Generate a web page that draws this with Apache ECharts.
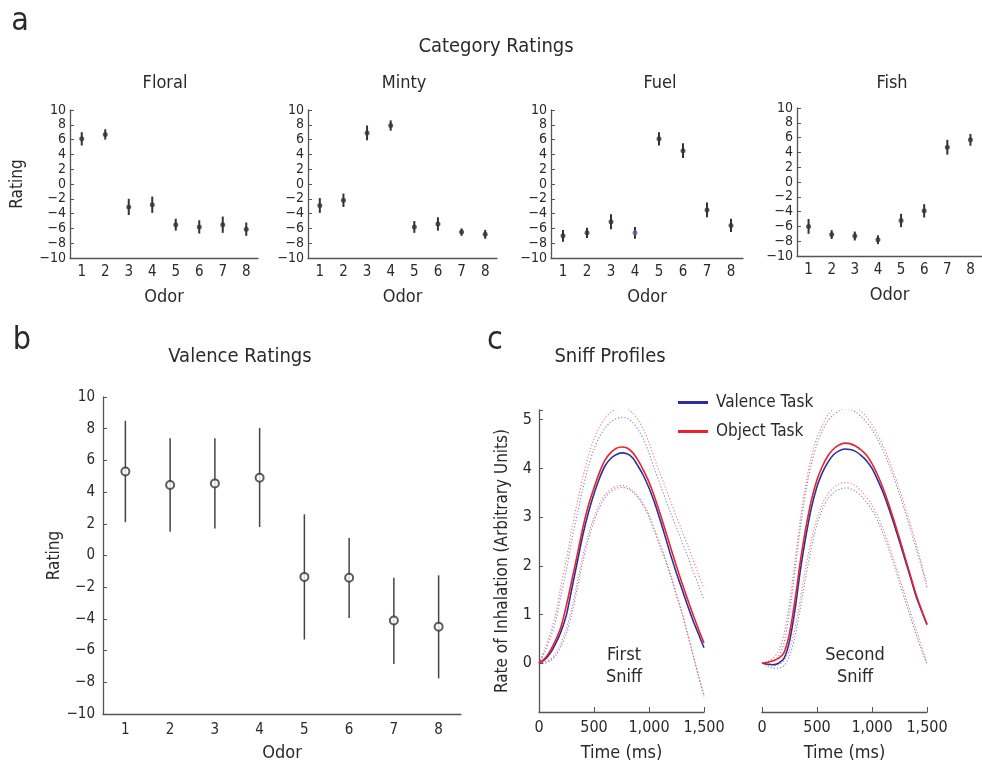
<!DOCTYPE html>
<html>
<head>
<meta charset="utf-8">
<script src="https://cdn.jsdelivr.net/npm/echarts@6/dist/echarts.min.js"></script>
<style>
html, body { margin: 0; padding: 0; background: #fff; }
#chart { width: 982px; height: 766px; }
</style>
</head>
<body>
<div id="chart"></div>
<script>
// odor categories (panels a, b)
var odors = ['1', '2', '3', '4', '5', '6', '7', '8'];

// panel a: category ratings, mean and half error bar
var floralMean = [6.1, 6.7, -3.1, -2.8, -5.5, -5.8, -5.5, -6.1];
var floralErr  = [0.9, 0.7, 1.1, 1.1, 0.8, 0.9, 1.1, 0.9];
var mintyMean  = [-2.9, -2.2, 6.9, 7.9, -5.8, -5.4, -6.5, -6.8];
var mintyErr   = [1.0, 0.9, 1.0, 0.7, 0.8, 0.9, 0.5, 0.6];
var fuelMean   = [-7.0, -6.6, -5.1, -6.6, 6.1, 4.5, -3.5, -5.6];
var fuelErr    = [0.8, 0.7, 1.0, 0.8, 0.9, 1.0, 1.0, 0.9];
var fishMean   = [-6.0, -7.1, -7.3, -7.8, -5.2, -3.9, 4.7, 5.7];
var fishErr    = [1.0, 0.6, 0.6, 0.6, 0.9, 0.9, 1.0, 0.8];

// panel b: valence ratings
var valenceMean = [5.3, 4.45, 4.55, 4.9, -1.35, -1.4, -4.1, -4.5];
var valenceLow  = [2.1, 1.5, 1.7, 1.8, -5.3, -3.95, -6.85, -7.75];
var valenceHigh = [8.5, 7.4, 7.4, 8.05, 2.6, 1.1, -1.4, -1.25];

// panel c: sniff profiles, read every 50 ms
var timeMs = [0, 50, 100, 150, 200, 250, 300, 350, 400, 450, 500, 550, 600, 650, 700, 750,
              800, 850, 900, 950, 1000, 1050, 1100, 1150, 1200, 1250, 1300, 1350, 1400, 1450, 1500];
var firstValence   = [0, 0.07, 0.2, 0.4, 0.65, 1.0, 1.55, 2.1, 2.65, 3.1, 3.48, 3.8, 4.05, 4.2, 4.28, 4.32, 4.3, 4.22, 4.05, 3.85, 3.6, 3.3, 2.95, 2.58, 2.2, 1.85, 1.52, 1.19, 0.88, 0.6, 0.32];
var firstObject    = [0, 0.09, 0.25, 0.47, 0.75, 1.2, 1.72, 2.25, 2.8, 3.25, 3.6, 3.92, 4.17, 4.32, 4.41, 4.44, 4.42, 4.33, 4.17, 3.96, 3.72, 3.42, 3.08, 2.72, 2.35, 1.99, 1.65, 1.32, 1.0, 0.7, 0.42];
var firstValenceUp = [0, 0.22, 0.5, 0.85, 1.4, 1.92, 2.55, 3.08, 3.6, 4.05, 4.4, 4.65, 4.83, 4.95, 5.02, 5.05, 5.03, 4.95, 4.8, 4.6, 4.32, 3.98, 3.68, 3.37, 3.07, 2.78, 2.49, 2.2, 1.9, 1.6, 1.3];
var firstValenceLo = [0, 0.0, 0.05, 0.15, 0.35, 0.62, 1.03, 1.55, 2.1, 2.55, 2.92, 3.2, 3.4, 3.52, 3.59, 3.61, 3.59, 3.52, 3.4, 3.23, 3.0, 2.7, 2.4, 2.1, 1.76, 1.39, 1.02, 0.6, 0.16, -0.27, -0.68];
var firstObjectUp  = [0, 0.28, 0.6, 1.0, 1.6, 2.15, 2.78, 3.32, 3.83, 4.27, 4.6, 4.85, 5.03, 5.15, 5.22, 5.24, 5.22, 5.14, 5.0, 4.8, 4.53, 4.2, 3.9, 3.6, 3.3, 3.01, 2.72, 2.43, 2.13, 1.83, 1.54];
var firstObjectLo  = [0, 0.02, 0.08, 0.2, 0.42, 0.72, 1.15, 1.68, 2.22, 2.65, 3.0, 3.27, 3.46, 3.57, 3.63, 3.65, 3.62, 3.55, 3.43, 3.27, 3.05, 2.76, 2.46, 2.15, 1.8, 1.43, 1.05, 0.63, 0.19, -0.24, -0.65];
var secondValence   = [0, -0.02, -0.03, 0.0, 0.1, 0.45, 1.1, 1.93, 2.62, 3.2, 3.63, 3.92, 4.13, 4.28, 4.36, 4.4, 4.39, 4.35, 4.27, 4.16, 4.0, 3.77, 3.51, 3.2, 2.86, 2.5, 2.13, 1.76, 1.38, 1.08, 0.79];
var secondObject    = [0, 0.02, 0.05, 0.1, 0.22, 0.62, 1.3, 2.12, 2.8, 3.36, 3.77, 4.05, 4.26, 4.4, 4.48, 4.52, 4.51, 4.46, 4.38, 4.27, 4.1, 3.87, 3.6, 3.28, 2.93, 2.56, 2.18, 1.8, 1.42, 1.1, 0.8];
var secondValenceUp = [0, 0.0, 0.05, 0.15, 0.42, 1.05, 1.9, 2.8, 3.55, 4.1, 4.5, 4.78, 4.98, 5.1, 5.18, 5.22, 5.21, 5.16, 5.07, 4.95, 4.8, 4.6, 4.37, 4.1, 3.8, 3.47, 3.12, 2.75, 2.37, 1.98, 1.55];
var secondValenceLo = [0, -0.06, -0.1, -0.1, -0.05, 0.15, 0.55, 1.15, 1.8, 2.38, 2.85, 3.17, 3.38, 3.5, 3.57, 3.6, 3.59, 3.53, 3.44, 3.31, 3.15, 2.93, 2.67, 2.36, 2.02, 1.66, 1.3, 0.95, 0.6, 0.28, -0.02];
var secondObjectUp  = [0, 0.03, 0.1, 0.25, 0.6, 1.25, 2.1, 2.98, 3.7, 4.25, 4.63, 4.9, 5.1, 5.22, 5.3, 5.33, 5.32, 5.27, 5.18, 5.06, 4.9, 4.7, 4.47, 4.2, 3.9, 3.57, 3.22, 2.85, 2.46, 2.05, 1.62];
var secondObjectLo  = [0, -0.03, -0.05, -0.03, 0.05, 0.28, 0.72, 1.35, 2.0, 2.55, 2.98, 3.28, 3.48, 3.6, 3.68, 3.71, 3.7, 3.64, 3.54, 3.41, 3.25, 3.03, 2.77, 2.46, 2.12, 1.76, 1.4, 1.05, 0.7, 0.35, 0.0];

var FONT = "'Liberation Sans Narrow', 'DejaVu Sans Condensed', 'Liberation Sans', sans-serif";
var TXT = '#2a2a2a';
var AX = '#555';
var BLUE = '#2c2f9e';
var RED = '#e8232b';

function minus(v) { return String(v).replace('-', '\u2212'); }
function thousands(v) {
  if (v < 1000) return String(v);
  var r = String(v % 1000);
  while (r.length < 3) r = '0' + r;
  return Math.floor(v / 1000) + ',' + r;
}

var grids = [
  { left: 70, top: 110, width: 188, height: 148 },
  { left: 308, top: 110, width: 189, height: 148 },
  { left: 551, top: 110, width: 192, height: 148 },
  { left: 797, top: 108, width: 188, height: 148 },
  { left: 103, top: 397, width: 358, height: 317 },
  { left: 539, top: 410, width: 165, height: 302 },
  { left: 762, top: 410, width: 165, height: 302 }
];

var xAxes = [], yAxes = [], series = [];

function errorBars(idx, lows, highs, width, color) {
  return {
    type: 'custom',
    xAxisIndex: idx, yAxisIndex: idx,
    silent: true, z: 2,
    data: lows.map(function (l, k) { return [k, l, highs[k]]; }),
    encode: { x: 0, y: [1, 2] },
    renderItem: function (params, api) {
      var p1 = api.coord([api.value(0), api.value(1)]);
      var p2 = api.coord([api.value(0), api.value(2)]);
      return {
        type: 'line',
        shape: { x1: p1[0], y1: p1[1], x2: p2[0], y2: p2[1] },
        style: { stroke: color, lineWidth: width }
      };
    }
  };
}

function odorX(idx, size, margin, gap, nameSize) {
  return {
    gridIndex: idx, type: 'category', data: odors, boundaryGap: true,
    axisLine: { onZero: false, lineStyle: { color: AX, width: 1.3 } },
    axisTick: { inside: true, alignWithLabel: true, length: 4, lineStyle: { color: AX } },
    axisLabel: { color: TXT, fontSize: size, margin: margin, fontFamily: FONT },
    splitLine: { show: false },
    name: 'Odor', nameLocation: 'middle', nameGap: gap,
    nameTextStyle: { color: TXT, fontSize: nameSize, fontFamily: FONT }
  };
}

function ratingY(idx, size, margin, named, gap) {
  return {
    gridIndex: idx, type: 'value', min: -10, max: 10, interval: 2,
    axisLine: { show: true, onZero: false, lineStyle: { color: AX, width: 1.3 } },
    axisTick: { show: true, inside: true, length: 4, lineStyle: { color: AX } },
    axisLabel: { color: TXT, fontSize: size, margin: margin, fontFamily: FONT, formatter: minus },
    splitLine: { show: false },
    name: named ? 'Rating' : '', nameLocation: 'middle', nameGap: gap, nameRotate: 90,
    nameTextStyle: { color: TXT, fontSize: 17, fontFamily: FONT }
  };
}

// panel a
var catMeans = [floralMean, mintyMean, fuelMean, fishMean];
var catErrs = [floralErr, mintyErr, fuelErr, fishErr];
for (var i = 0; i < 4; i++) {
  xAxes.push(odorX(i, 15, 7, 30, 18));
  yAxes.push(ratingY(i, 14, 4, i === 0, 44));
  var m = catMeans[i], e = catErrs[i];
  series.push(errorBars(i,
    m.map(function (v, k) { return v - e[k]; }),
    m.map(function (v, k) { return v + e[k]; }), 2, '#333'));
  series.push({
    type: 'scatter', xAxisIndex: i, yAxisIndex: i, z: 3, silent: true,
    symbol: 'circle', symbolSize: 5,
    itemStyle: { color: '#333' },
    data: m.map(function (v, k) {
      return (i === 2 && k === 3) ? { value: v, itemStyle: { color: '#5a5ab8' } } : v;
    })
  });
}

// panel b
xAxes.push(odorX(4, 15, 9, 30, 18));
yAxes.push(ratingY(4, 15, 8, true, 36));
series.push(errorBars(4, valenceLow, valenceHigh, 1.5, '#444'));
series.push({
  type: 'scatter', xAxisIndex: 4, yAxisIndex: 4, z: 3, silent: true,
  symbol: 'emptyCircle', symbolSize: 8,
  itemStyle: { color: '#333', borderWidth: 1.1 },
  data: valenceMean
});

// panel c
for (var j = 5; j < 7; j++) {
  xAxes.push({
    gridIndex: j, type: 'value', min: 0, max: 1500, interval: 500,
    axisLine: { onZero: false, lineStyle: { color: AX, width: 1.3 } },
    axisTick: { inside: true, length: 5, lineStyle: { color: AX } },
    axisLabel: { color: TXT, fontSize: 16, margin: 8, fontFamily: FONT, formatter: thousands },
    splitLine: { show: false },
    name: 'Time (ms)', nameLocation: 'middle', nameGap: 32,
    nameTextStyle: { color: TXT, fontSize: 18, fontFamily: FONT }
  });
  yAxes.push({
    gridIndex: j, type: 'value', min: -1, max: 5.2, interval: 1, show: j === 5,
    axisLine: { show: true, onZero: false, lineStyle: { color: AX, width: 1.3 } },
    axisTick: { show: true, inside: true, length: 4, lineStyle: { color: AX } },
    axisLabel: {
      color: TXT, fontSize: 16, margin: 7, fontFamily: FONT,
      formatter: function (v) { return (v >= 0 && v <= 5 && Math.round(v) === v) ? String(v) : ''; }
    },
    splitLine: { show: false },
    name: 'Rate of Inhalation (Arbitrary Units)', nameLocation: 'middle', nameGap: 28, nameRotate: 90,
    nameTextStyle: { color: TXT, fontSize: 17, fontFamily: FONT }
  });
}

function profile(idx, name, ys, color, dotted) {
  return {
    type: 'line', name: name, xAxisIndex: idx, yAxisIndex: idx,
    silent: true, symbol: 'none', smooth: 0.3, color: color,
    z: dotted ? 1 : 3,
    lineStyle: dotted
      ? { color: color, width: 1.1, type: [1.2, 2], opacity: 0.6 }
      : { color: color, width: 1.6 },
    data: timeMs.map(function (t, k) { return [t, ys[k]]; })
  };
}

var sniffSets = [
  [5, firstValence, firstObject, firstValenceUp, firstValenceLo, firstObjectUp, firstObjectLo],
  [6, secondValence, secondObject, secondValenceUp, secondValenceLo, secondObjectUp, secondObjectLo]
];
sniffSets.forEach(function (s) {
  series.push(profile(s[0], 'vband', s[3], BLUE, true));
  series.push(profile(s[0], 'vband', s[4], BLUE, true));
  series.push(profile(s[0], 'oband', s[5], RED, true));
  series.push(profile(s[0], 'oband', s[6], RED, true));
  series.push(profile(s[0], 'Valence Task', s[1], BLUE, false));
  series.push(profile(s[0], 'Object Task', s[2], RED, false));
});

function label(text, x, y, size, extra) {
  var st = { text: text, x: 0, y: 0, fill: TXT, fontSize: size, fontFamily: FONT, align: 'center', verticalAlign: 'middle' };
  if (extra) for (var key in extra) st[key] = extra[key];
  return { type: 'text', x: x, y: y, silent: true, style: st };
}

var option = {
  backgroundColor: '#fff',
  animation: false,
  grid: grids,
  xAxis: xAxes,
  yAxis: yAxes,
  legend: {
    data: ['Valence Task', 'Object Task'],
    orient: 'vertical', left: 673, top: 389,
    icon: 'rect', itemWidth: 30, itemHeight: 3, itemGap: 12,
    selectedMode: false,
    textStyle: { color: TXT, fontSize: 17, fontFamily: FONT, padding: [0, 0, 0, 3] }
  },
  graphic: [
    label('a', 20, 22, 32),
    label('Category Ratings', 496, 47, 20),
    label('Floral', 165, 83, 18),
    label('Minty', 404, 83, 18),
    label('Fuel', 660, 83, 18),
    label('Fish', 892, 83, 18),
    label('b', 22, 341, 32),
    label('c', 495, 341, 32),
    label('Valence Ratings', 240, 357, 20),
    label('Sniff Profiles', 610, 357, 20),
    label('First\nSniff', 624, 666, 18, { lineHeight: 22 }),
    label('Second\nSniff', 855, 666, 18, { lineHeight: 22 })
  ],
  series: series
};

var myChart = echarts.init(document.getElementById('chart'));
myChart.setOption(option);
</script>
</body>
</html>
